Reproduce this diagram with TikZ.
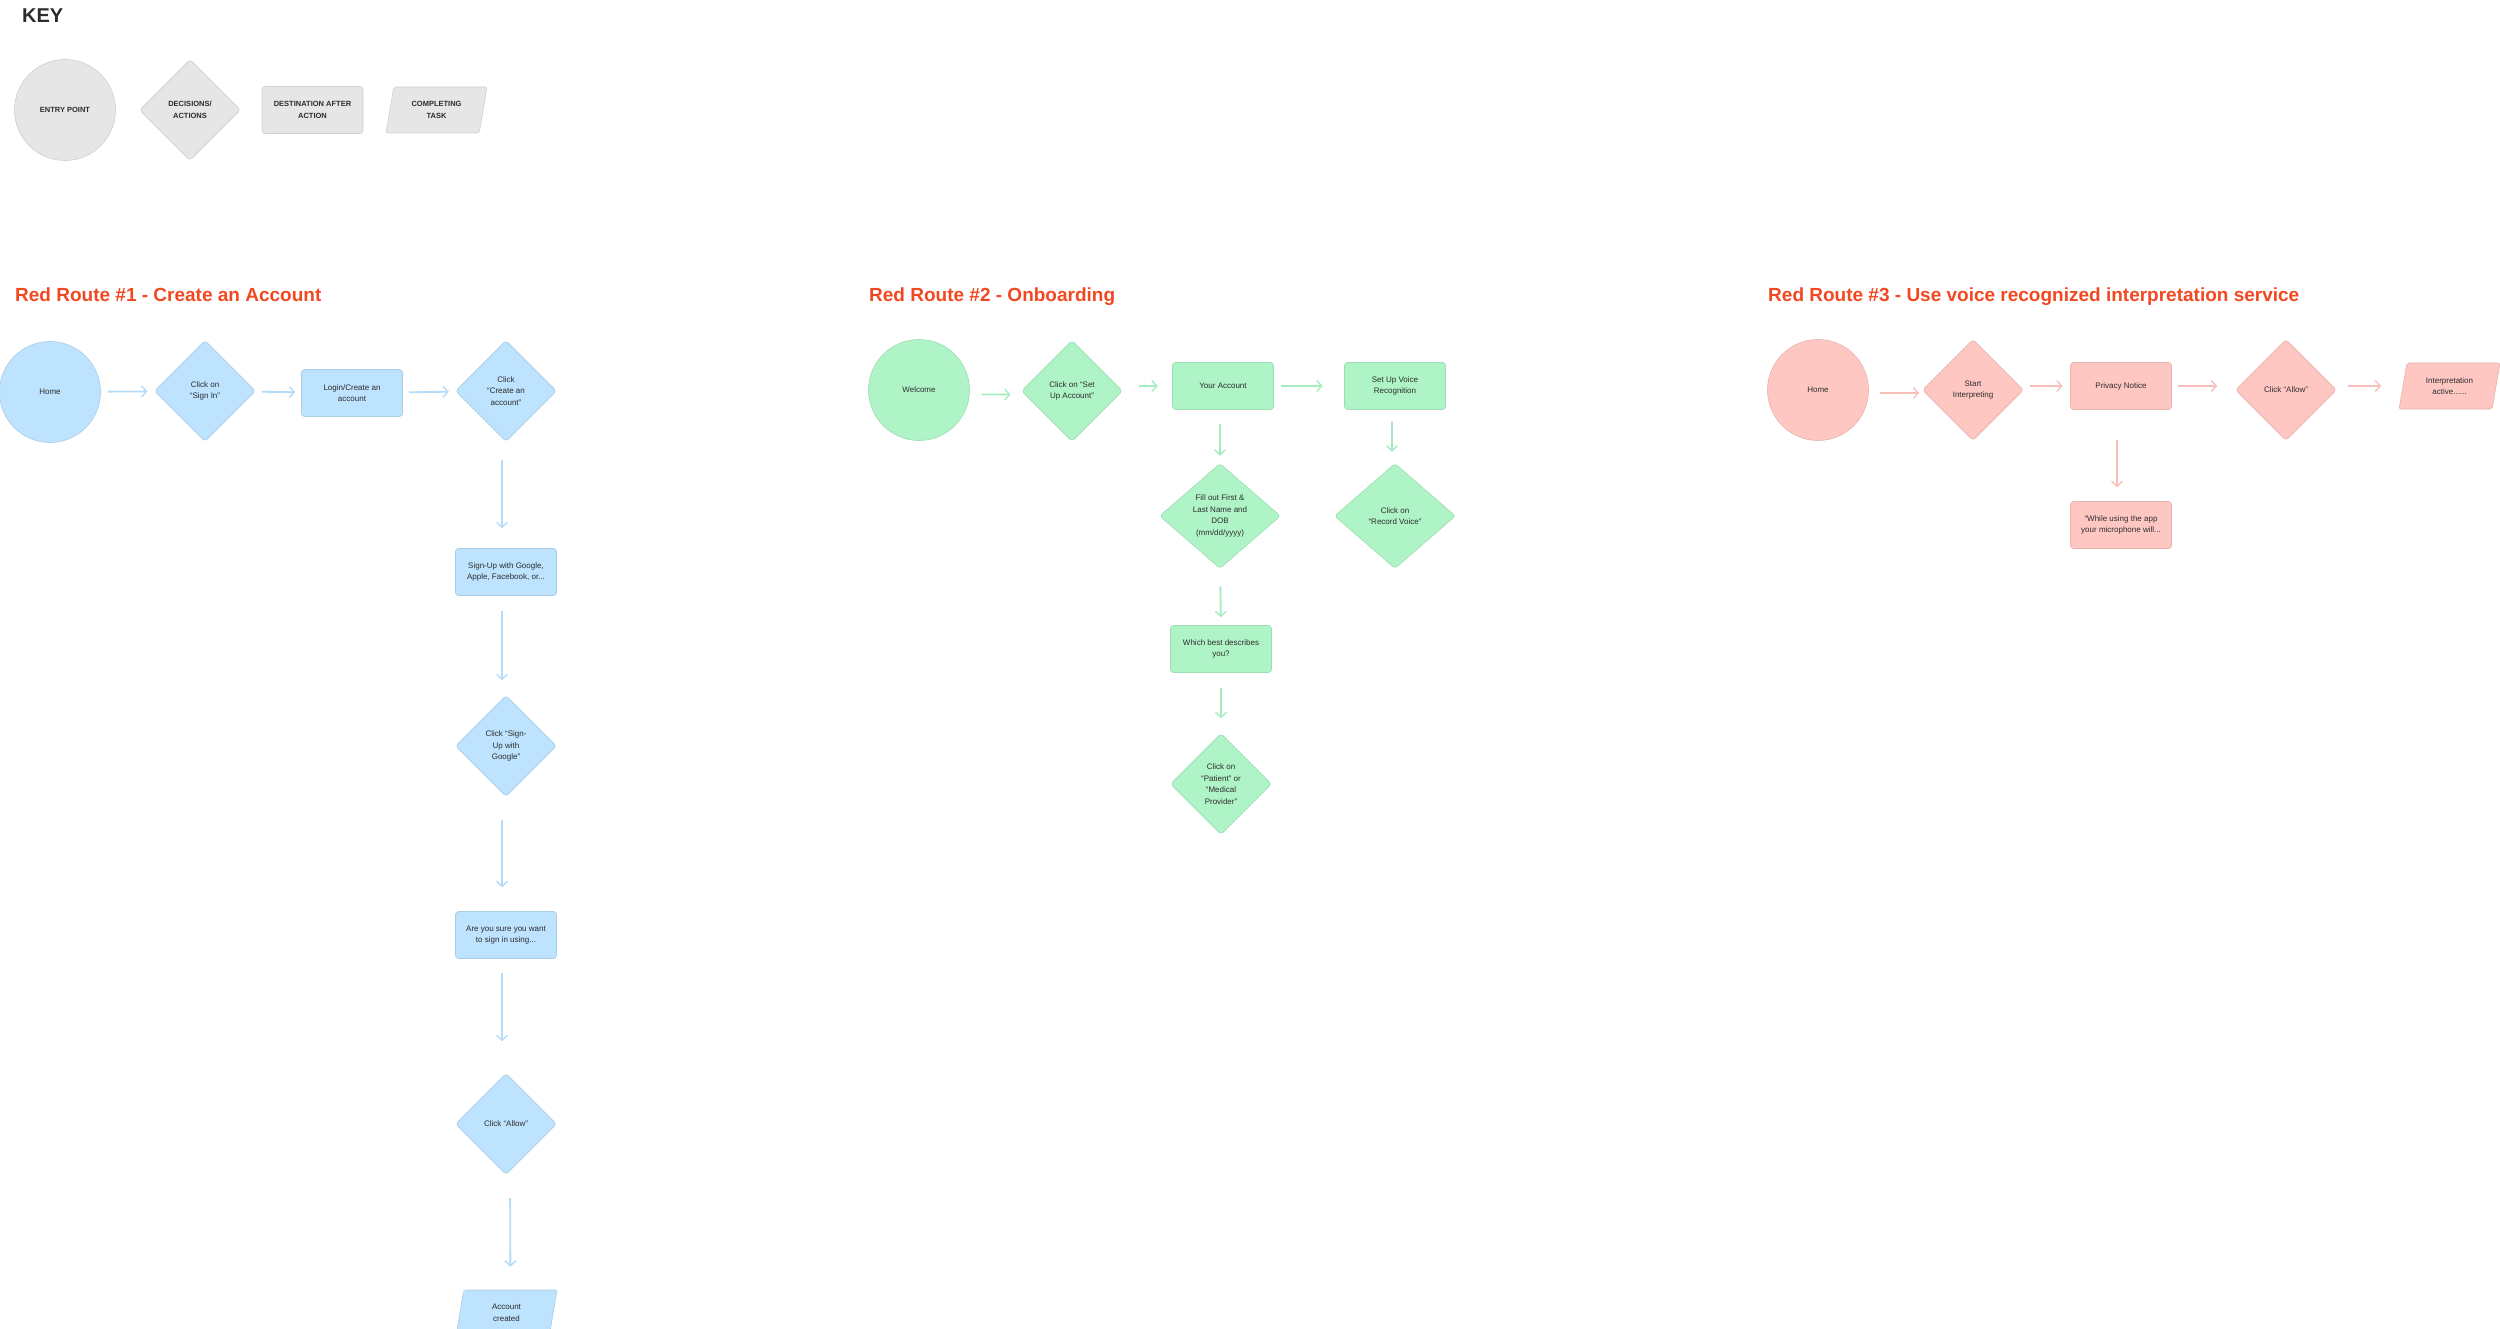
\documentclass[tikz,border=0pt]{standalone}
\usepackage{fontspec}
\setmainfont{Liberation Sans}
\usetikzlibrary{shapes.geometric,arrows.meta}
\definecolor{keyGrey}{HTML}{E6E6E6}
\definecolor{rrBlue}{HTML}{BDE3FF}
\definecolor{rrGreen}{HTML}{AFF4C6}
\definecolor{rrPink}{HTML}{FFC7C2}
\definecolor{arBlue}{HTML}{B4DCF8}
\definecolor{arGreen}{HTML}{A6EDBE}
\definecolor{arPink}{HTML}{F8C0BA}
\definecolor{rrTitle}{HTML}{F24822}
\definecolor{rrText}{HTML}{2C2C2C}
\tikzset{
  box/.style={draw=#1!90!black, fill=#1, line width=0.6pt, text=rrText,
    font=\fontsize{8}{11.5}\selectfont, align=center, inner sep=0pt},
  entry/.style={box=#1, circle, minimum size=101pt},
  choice/.style={box=#1, diamond, aspect=1, minimum width=101pt,
    minimum height=101pt, rounded corners=3pt},
  dest/.style={box=#1, rectangle, minimum width=101pt, minimum height=47pt,
    rounded corners=3pt},
  task/.style={box=#1, trapezium, trapezium left angle=65.5,
    trapezium right angle=114.5, minimum width=101pt, minimum height=46pt,
    trapezium stretches body, rounded corners=2pt},
  keyLabel/.style={font=\fontsize{7.5}{11.7}\selectfont\bfseries},
  routeTitle/.style={anchor=base west, inner sep=0pt, text=rrTitle,
    font=\fontsize{19}{19}\selectfont\bfseries},
  flow/.style={line width=1.8pt,
    -{Straight Barb[length=5pt, width=11pt, line width=1.4pt]}}
}
\newcommand{\flowArrow}[4][]{
    \draw[flow, color=#4, #1] (#2) -- (#3);
}

\begin{document}
\begin{tikzpicture}[x=1pt, y=-1pt]
    \path[use as bounding box] (0,0) rectangle (2500,1329);

    \node[anchor=base west, inner sep=0pt, text=rrText,
      font=\fontsize{20}{20}\selectfont\bfseries] (keyTitle) at (22,23) {KEY};
    \node[entry=keyGrey, keyLabel] (keyEntry) at (65,110) {ENTRY POINT};
    \node[choice=keyGrey, keyLabel] (keyChoice) at (190,110) {DECISIONS/\\ACTIONS};
    \node[dest=keyGrey, keyLabel] (keyDest) at (312.5,110) {DESTINATION AFTER\\ACTION};
    \node[task=keyGrey, keyLabel] (keyTask) at (436.5,110) {COMPLETING\\TASK};

    \node[routeTitle] (titleA) at (15,302) {Red Route \#1 - Create an Account};
    \node[routeTitle] (titleB) at (869,302) {Red Route \#2 - Onboarding};
    \node[routeTitle] (titleC) at (1768,302) {Red Route \#3 - Use voice recognized interpretation service};

    \node[entry=rrBlue] (homeA) at (50,392) {Home};
    \node[choice=rrBlue] (signIn) at (205,391) {Click on\\“Sign In”};
    \node[dest=rrBlue] (login) at (352,393) {Login/Create an\\account};
    \node[choice=rrBlue] (createAcc) at (506,391) {Click\\“Create an\\account”};
    \node[dest=rrBlue] (signUp) at (506,572) {Sign-Up with Google,\\Apple, Facebook, or...};
    \node[choice=rrBlue] (google) at (506,746) {Click “Sign-\\Up with\\Google”};
    \node[dest=rrBlue] (sure) at (506,935) {Are you sure you want\\to sign in using...};
    \node[choice=rrBlue] (allowA) at (506,1124) {Click “Allow”};
    \node[task=rrBlue] (created) at (506.5,1313) {Account\\created};

    \flowArrow[shorten <=7pt, shorten >=7pt]{homeA}{signIn}{arBlue}
    \flowArrow[shorten <=7pt, shorten >=6pt]{signIn}{login}{arBlue}
    \flowArrow[shorten <=6pt, shorten >=7pt]{login}{createAcc}{arBlue}
    \flowArrow[transform canvas={xshift=-4pt}, shorten <=18pt, shorten >=20pt]{createAcc.south}{signUp.north}{arBlue}
    \flowArrow[transform canvas={xshift=-4pt}, shorten <=15pt, shorten >=15pt]{signUp.south}{google.north}{arBlue}
    \flowArrow[transform canvas={xshift=-4pt}, shorten <=23pt, shorten >=24pt]{google.south}{sure.north}{arBlue}
    \flowArrow[transform canvas={xshift=-4pt}, shorten <=14pt, shorten >=32pt]{sure.south}{allowA.north}{arBlue}
    \flowArrow[transform canvas={xshift=4pt}, shorten <=23pt, shorten >=23pt]{allowA.south}{created.north}{arBlue}

    \node[entry=rrGreen] (welcome) at (919,390) {Welcome};
    \node[choice=rrGreen] (setUp) at (1072,391) {Click on “Set\\Up Account”};
    \node[dest=rrGreen] (yourAcc) at (1223,386) {Your Account};
    \node[dest=rrGreen] (voice) at (1395,386) {Set Up Voice\\Recognition};
    \node[choice=rrGreen, minimum width=121pt, minimum height=105pt] (fillOut) at (1220,516)
      {Fill out First \&\\Last Name and\\DOB\\(mm/dd/yyyy)};
    \node[choice=rrGreen, minimum width=121pt, minimum height=105pt] (record) at (1395,516)
      {Click on\\“Record Voice”};
    \node[dest=rrGreen] (describes) at (1221,649) {Which best describes\\you?};
    \node[choice=rrGreen] (patient) at (1221,784) {Click on\\“Patient” or\\“Medical\\Provider”};

    \flowArrow[transform canvas={yshift=-4pt}, shorten <=12pt, shorten >=11pt]{welcome}{setUp}{arGreen}
    \flowArrow[shorten <=16pt, shorten >=14.5pt]{setUp.east |- yourAcc}{yourAcc}{arGreen}
    \flowArrow[shorten <=7.5pt, shorten >=21.5pt]{yourAcc}{voice}{arGreen}
    \flowArrow[shorten <=14.5pt, shorten >=7.5pt]{fillOut.north |- yourAcc.south}{fillOut.north}{arGreen}
    \flowArrow[transform canvas={xshift=-3pt}, shorten <=11.5pt, shorten >=11.5pt]{voice.south}{record.north}{arGreen}
    \flowArrow[shorten <=17.5pt, shorten >=8pt]{fillOut.south}{describes.north}{arGreen}
    \flowArrow[shorten <=15pt, shorten >=15pt]{describes.south}{patient.north}{arGreen}

    \node[entry=rrPink] (homeC) at (1818,390) {Home};
    \node[choice=rrPink] (start) at (1973,390) {Start\\Interpreting};
    \node[dest=rrPink] (privacy) at (2121,386) {Privacy Notice};
    \node[choice=rrPink] (allowC) at (2286,390) {Click “Allow”};
    \node[task=rrPink] (active) at (2449.5,386) {Interpretation\\active......};
    \node[dest=rrPink] (micro) at (2121,525) {“While using the app\\your microphone will...};

    \flowArrow[transform canvas={yshift=-3pt}, shorten <=11pt, shorten >=3pt]{homeC}{start}{arPink}
    \flowArrow[shorten <=6.5pt, shorten >=7.5pt]{start.east |- privacy}{privacy}{arPink}
    \flowArrow[shorten <=6.5pt, shorten >=18pt]{privacy}{privacy -| allowC.west}{arPink}
    \flowArrow[shorten <=11pt, shorten >=21.5pt]{allowC.east |- active}{active}{arPink}
    \flowArrow[transform canvas={xshift=-4pt}, shorten <=30.5pt, shorten >=14pt]{privacy.south}{micro.north}{arPink}
\end{tikzpicture}
\end{document}
